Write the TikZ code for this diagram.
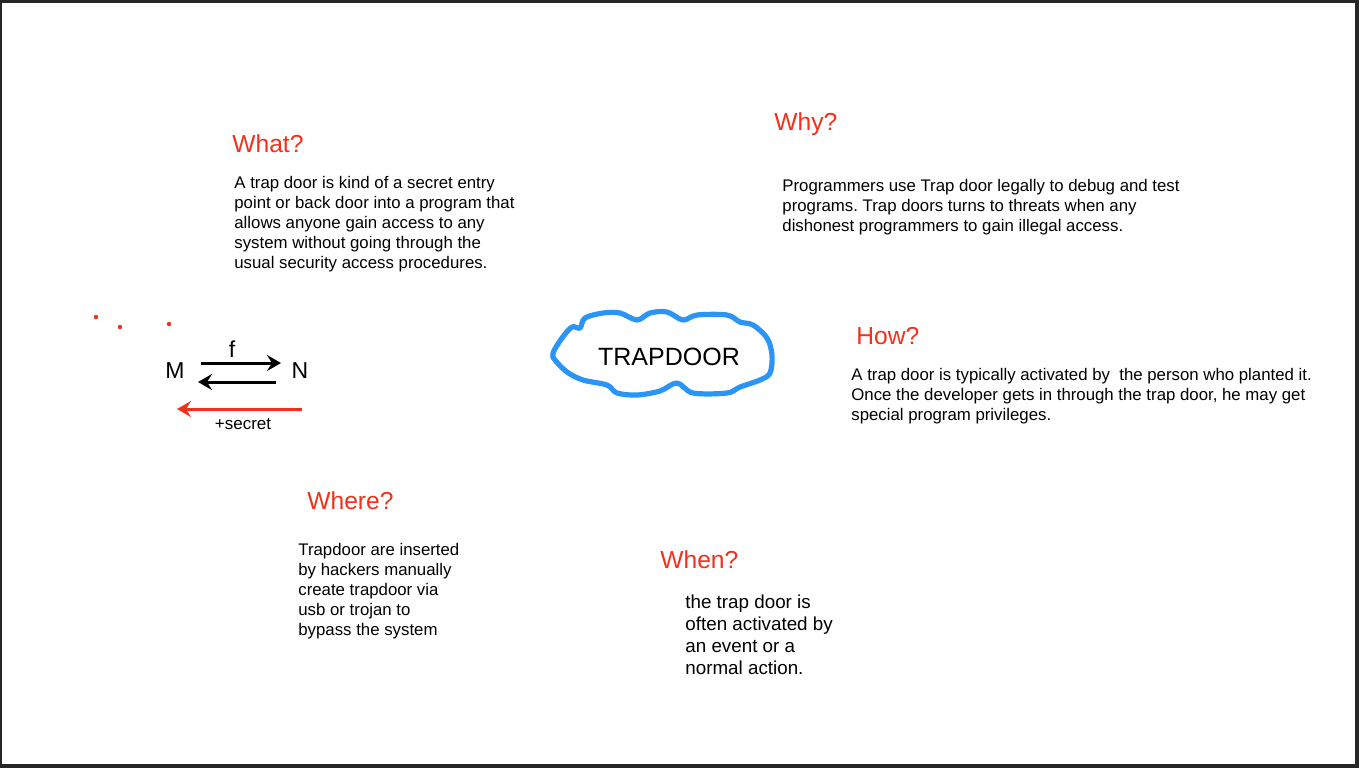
\documentclass[tikz,border=0pt]{standalone}
\usepackage{fontspec}
\setmainfont{Liberation Sans}
\usepackage{xcolor}
\usetikzlibrary{positioning,arrows.meta}
\definecolor{headred}{HTML}{F2301B}
\definecolor{cloudblue}{HTML}{2B95F7}
\definecolor{frame}{HTML}{262626}
\frenchspacing
\tikzset{
  head/.style={anchor=west, inner sep=0pt, text=headred, font=\fontsize{12.3}{14}\selectfont},
  body/.style={anchor=north west, inner sep=0pt, align=left, font=\fontsize{8.4}{10}\selectfont},
  sym/.style={inner sep=0pt, font=\fontsize{11.5}{13}\selectfont},
  arr/.style={-{Stealth[length=7pt, width=8pt, inset=2.5pt]}, line width=1.5pt},
  redarr/.style={arr, draw=headred},
  cloudline/.style={draw=cloudblue, line width=2.6pt, line join=round},
  dot/.style={fill=headred, draw=none},
}
\begin{document}
\begin{tikzpicture}[x=0.5pt, y=-0.5pt]
  % frame
  \fill[frame] (0,0) rectangle (1359,768);
  \fill[white] (2,3) rectangle (1355,764);
  \useasboundingbox (0,0) rectangle (1359,768);

  % what
  \node[head] (what) at (232,144) {What?};
  \node[body] (whattxt) at (234,176) {A trap door is kind of a secret entry\\
    point or back door into a program that\\
    allows anyone gain access to any\\
    system without going through the\\
    usual security access procedures.};

  % why
  \node[head] (why) at (774,124) {Why?};
  \node[body] (whytxt) at (782,179) {Programmers use Trap door legally to debug and test\\
    programs. Trap doors turns to threats when any\\
    dishonest programmers to gain illegal access.};

  % how
  \node[head] (how) at (856,336) {How?};
  \node[body] (howtxt) at (851,368) {A trap door is typically activated by \ the person who planted it.\\
    Once the developer gets in through the trap door, he may get\\
    special program privileges.};

  % where
  \node[head] (where) at (307,501) {Where?};
  \node[body] (wheretxt) at (298,543) {Trapdoor are inserted\\
    by hackers manually\\
    create trapdoor via\\
    usb or trojan to\\
    bypass the system};

  % when
  \node[head] (when) at (660,560) {When?};
  \node[body, font=\fontsize{9.4}{11}\selectfont] (whentxt) at (685,594) {the trap door is\\
    often activated by\\
    an event or a\\
    normal action.};

  % center
  \node[sym, font=\fontsize{12.5}{14}\selectfont] (trap) at (669,357) {TRAPDOOR};
  \draw[cloudline] plot[smooth cycle, tension=0.55] coordinates {
    (553,353) (562,338) (572,327) (580,328) (585,318) (603,313) (620,313)
    (637,320) (650,313) (667,312) (683,320) (697,315) (727,315) (740,322)
    (753,325) (767,338) (772,355) (770,373) (760,380) (740,387) (727,393)
    (693,393) (677,383) (660,391) (637,395) (617,393) (607,385) (583,380)
    (567,372) (555,360)};

  % mapping
  \node[sym] (M) at (175,371) {M};
  \node[sym] (N) at (300,371) {N};
  \node[sym] (f) at (232,349) {f};
  \coordinate (mtop) at (201,363);
  \coordinate (ntop) at (281,363);
  \coordinate (nbot) at (276,382);
  \coordinate (mbot) at (198,382);
  \coordinate (nred) at (302,409);
  \coordinate (mred) at (177,409);
  \draw[arr] (mtop) -- (ntop);
  \draw[arr] (nbot) -- (mbot);
  \draw[redarr] (nred) -- (mred);
  \node[sym, font=\fontsize{8.5}{10}\selectfont] (secret) at (243,424) {+secret};

  % dots
  \foreach \px/\py in {96/317, 120/327, 169/324}
    \fill[dot] (\px,\py) circle (1.1pt);
\end{tikzpicture}
\end{document}
